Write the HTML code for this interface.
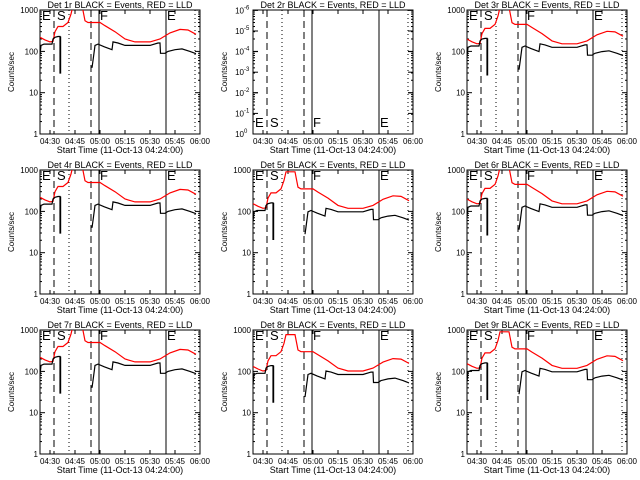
<!DOCTYPE html>
<html><head><style>
html,body{margin:0;padding:0;background:#fff;}
svg{display:block;font-family:"Liberation Sans",sans-serif;}
</style></head><body>
<svg id="s" width="640" height="480" xmlns="http://www.w3.org/2000/svg"></svg>
<script>
const S=document.getElementById('s');
let h='';
function Y(c){return 134-41.3*Math.log10(c);}
const red=[[40,220],[45,190],[50,170],[53,175],[55,300],[58,400],[63,400],[68,500],[71,800],[73,1300],[82,1300],[85,550],[88,500],[100,500],[105,420],[115,300],[125,200],[135,170],[150,170],[160,200],[170,280],[180,340],[188,330],[196,260]];
const blk=[[40,80],[41,140],[44,150],[52,150],[53,200],[55,220],[58,230],[60,230],[60,30],[60.6,30],[60.6,230]];
const blk2=[[92,40],[93,60],[95,140],[98,150],[104,130],[112,110],[113,170],[118,160],[125,140],[150,140],[158,160],[160,160],[160.5,90],[165,90],[168,100],[175,110],[182,115],[190,100],[196,88]];
function pts(a,dx,dy,f){return a.map(p=>(p[0]+dx).toFixed(1)+','+(Y(p[1]*f)+dy).toFixed(1)).join(' ');}
const xs=[0,213,427],ys=[0,160,320];
const vf=[1,1,0.9,1,0.7,0.9,1,0.6,0.7];
for(let r=0;r<3;r++)for(let c=0;c<3;c++){
 const n=r*3+c+1,dx=xs[c],dy=ys[r],L=dx+40,R=dx+200,T=dy+10,B=dy+134;
 h+=`<clipPath id="c${n}"><rect x="${L}" y="${T}" width="160" height="124"/></clipPath>`;
 h+=`<text x="${dx+120}" y="${dy+8}" font-size="9" text-anchor="middle">Det ${n}r BLACK = Events, RED = LLD</text>`;
 h+=`<rect x="${L}" y="${T}" width="160" height="124" fill="none" stroke="#000" stroke-width="1"/>`;
 // y ticks
 for(let k=0;k<=3;k++){const y=Y(Math.pow(10,k))+dy;
  h+=`<line x1="${L}" y1="${y}" x2="${L+5}" y2="${y}" stroke="#000"/><line x1="${R-5}" y1="${y}" x2="${R}" y2="${y}" stroke="#000"/>`;
  for(let m=2;m<10&&k<3;m++){const ym=Y(m*Math.pow(10,k))+dy;h+=`<line x1="${L}" y1="${ym}" x2="${L+2}" y2="${ym}" stroke="#000"/><line x1="${R-2}" y1="${ym}" x2="${R}" y2="${ym}" stroke="#000"/>`;}
  if(n!=2) h+=`<text x="${L-2}" y="${y+3}" font-size="8" text-anchor="end">${Math.pow(10,k)}</text>`;
 }
 if(n==2){for(let k=0;k<=6;k++){const y=B-k*20.6;h+=`<line x1="${L}" y1="${y}" x2="${L+5}" y2="${y}" stroke="#000"/><line x1="${R-5}" y1="${y}" x2="${R}" y2="${y}" stroke="#000"/><text x="${L-9}" y="${y+3}" font-size="8" text-anchor="end">10</text><text x="${L-9}" y="${y-1}" font-size="6">${k==0?'0':'-'+(k==6?6:k)}</text>`;}}
 h+=`<text transform="translate(${dx+14},${dy+72}) rotate(-90)" font-size="8" text-anchor="middle">Counts/sec</text>`;
 const lab=['04:30','04:45','05:00','05:15','05:30','05:45','06:00'];
 for(let i=0;i<7;i++){const x=L+10+25*i;h+=`<line x1="${x}" y1="${B}" x2="${x}" y2="${B-4}" stroke="#000"/><line x1="${x}" y1="${T}" x2="${x}" y2="${T+4}" stroke="#000"/><text x="${x}" y="${B+10}" font-size="8" text-anchor="middle">${lab[i]}</text>`;}
 h+=`<text x="${dx+120}" y="${B+19}" font-size="9" text-anchor="middle">Start Time (11-Oct-13 04:24:00)</text>`;
 // vertical lines
 h+=`<line x1="${dx+54}" y1="${T}" x2="${dx+54}" y2="${B}" stroke="#000" stroke-dasharray="7,4"/>`;
 h+=`<line x1="${dx+91}" y1="${T}" x2="${dx+91}" y2="${B}" stroke="#000" stroke-dasharray="7,4"/>`;
 h+=`<line x1="${dx+69}" y1="${T}" x2="${dx+69}" y2="${B}" stroke="#000" stroke-dasharray="1,3"/>`;
 h+=`<line x1="${dx+195}" y1="${T}" x2="${dx+195}" y2="${B}" stroke="#000" stroke-dasharray="1,3"/>`;
 h+=`<line x1="${dx+99}" y1="${T}" x2="${dx+99}" y2="${B}" stroke="#000"/><line x1="${dx+166}" y1="${T}" x2="${dx+166}" y2="${B}" stroke="#000"/>`;
 const ly=n==2?dy+127:dy+20;
 [['E',42],['S',57],['F',100],['E',167]].forEach(e=>h+=`<text x="${dx+e[1]}" y="${ly}" font-size="13">${e[0]}</text>`);
 if(n!=2){const f=vf[n-1];
  h+=`<g clip-path="url(#c${n})" fill="none" stroke-width="1.2"><polyline points="${pts(red,dx,dy,f)}" stroke="#f00"/><polyline points="${pts(blk,dx,dy,f)}" stroke="#000"/><polyline points="${pts(blk2,dx,dy,f)}" stroke="#000"/></g>`;}
}
S.innerHTML=h;
</script>
</body></html>
